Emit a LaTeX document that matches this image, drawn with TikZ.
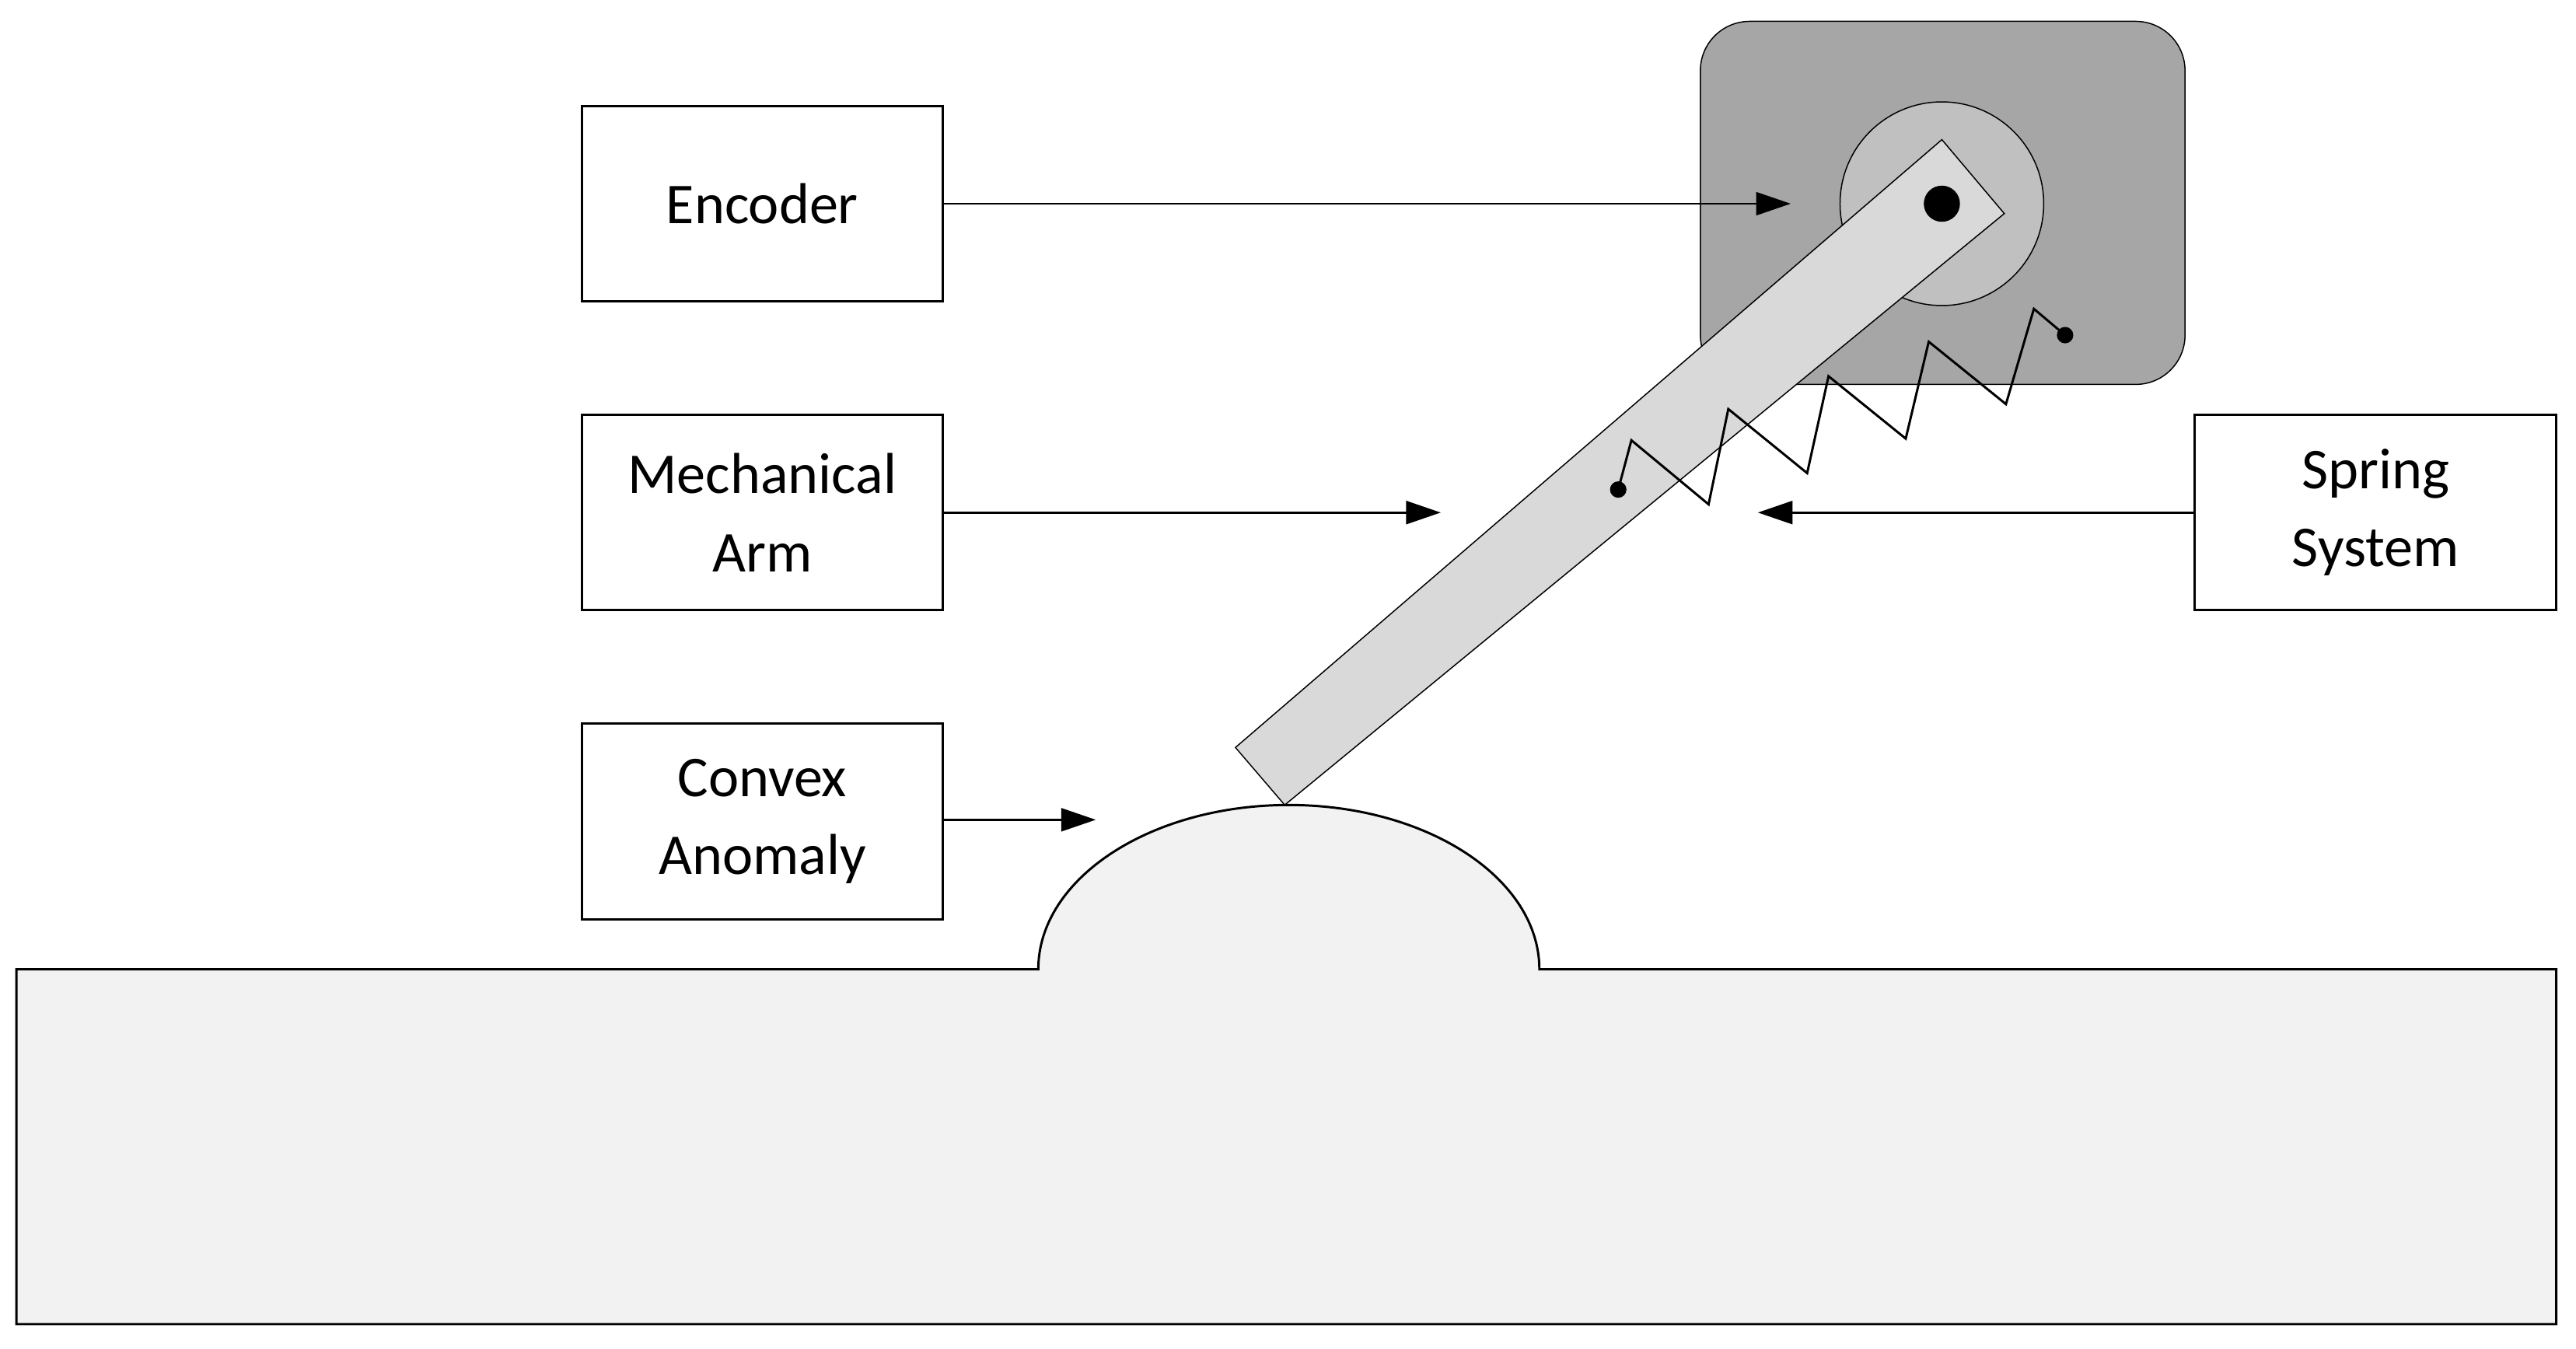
\documentclass[tikz,border=0pt]{standalone}
\usepackage{fontspec}
\setmainfont{Carlito}
\usetikzlibrary{arrows.meta}
\definecolor{groundgray}{HTML}{F2F2F2}
\definecolor{housegray}{HTML}{A6A6A6}
\definecolor{hubgray}{HTML}{C0C0C0}
\definecolor{armgray}{HTML}{D9D9D9}
\begin{document}
\begin{tikzpicture}[x=0.02cm,y=-0.02cm,
    every node/.style={font=\fontsize{20}{27}\selectfont},
    etiqueta/.style={draw, thick, minimum width=4.4cm, minimum height=2.38cm, align=center},
    flecha/.style={-{Triangle[length=12pt,width=8pt]}, thick}
]
\useasboundingbox (0,0) rectangle (1568,821);
% Suelo y anomalia
\draw[thick, fill=groundgray] (10,590) -- (632,590) arc[start angle=180, end angle=0, x radius=152.5, y radius=-100] -- (1556,590) -- (1556,806) -- (10,806) -- cycle;
% Motor
\draw[fill=housegray, rounded corners=0.6cm] (1035,13) rectangle (1330,234);
\node[circle, draw, fill=hubgray, minimum size=2.48cm, inner sep=0pt] (eje) at (1182,124) {};
% Brazo
\draw[fill=armgray] (752,455) -- (1182,85) -- (1220,130) -- (782,490) -- cycle;
\fill (1182,124) circle[radius=11];
% Resorte
\draw[thick] (985,298) -- (993,268) -- (1040,307) -- (1052,249) -- (1100,288) -- (1113,229) -- (1160,267) -- (1174,208) -- (1221,246) -- (1238,188) -- (1257,204);
\fill (985,298) circle[radius=5] (1257,204) circle[radius=5];
% Etiquetas
\node[etiqueta] (encoder) at (464,124) {Encoder};
\node[etiqueta] (brazo) at (464,312) {Mechanical\\Arm};
\node[etiqueta] (anomalia) at (464,500) {Convex\\Anomaly};
\node[etiqueta] (resorte) at (1446,312) {Spring\\System};
% Puntas
\coordinate (pEncoder) at (1090,124);
\coordinate (pBrazo) at (877,312);
\coordinate (pResorte) at (1070,312);
\coordinate (pAnomalia) at (667,499);
% Aristas
\draw[flecha] (encoder) -- (pEncoder);
\draw[flecha] (brazo) -- (pBrazo);
\draw[flecha] (resorte) -- (pResorte);
\draw[flecha] (anomalia.east |- pAnomalia) -- (pAnomalia);
\end{tikzpicture}
\end{document}
